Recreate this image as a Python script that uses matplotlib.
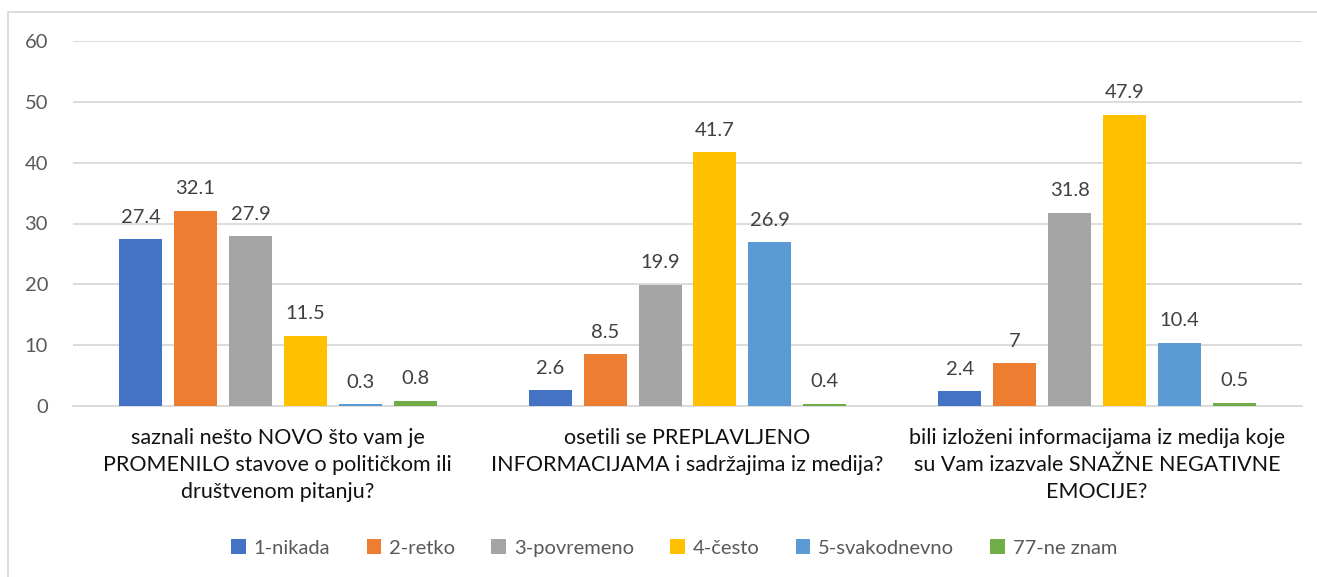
import matplotlib
matplotlib.use("Agg")
import matplotlib.pyplot as plt
from matplotlib.patches import Rectangle
import numpy as np

categories = [
    "saznali nešto NOVO što vam je\nPROMENILO stavove o političkom ili\ndruštvenom pitanju?",
    "osetili se PREPLAVLJENO\nINFORMACIJAMA i sadržajima iz medija?",
    "bili izloženi informacijama iz medija koje\nsu Vam izazvale SNAŽNE NEGATIVNE\nEMOCIJE?",
]
series_names = ["1-nikada", "2-retko", "3-povremeno", "4-često", "5-svakodnevno", "77-ne znam"]
values = [
    [27.4, 2.6, 2.4],
    [32.1, 8.5, 7],
    [27.9, 19.9, 31.8],
    [11.5, 41.7, 47.9],
    [0.3, 26.9, 10.4],
    [0.8, 0.4, 0.5],
]
colors = ["#4472C4", "#ED7D31", "#A5A5A5", "#FFC000", "#5B9BD5", "#70AD47"]
yticks = [0, 10, 20, 30, 40, 50, 60]

plt.rcParams['font.family'] = ['Lato', 'DejaVu Sans']

W, H = 1317, 577
fig = plt.figure(figsize=(W / 100, H / 100), dpi=100)
ax = fig.add_axes([73 / W, 1 - 406 / H, (1302 - 73) / W, (406 - 41) / H])

x = np.arange(len(categories))
step = 0.134
width = 0.105
handles = []
for i, (name, vals, c) in enumerate(zip(series_names, values, colors)):
    pos = x + (i - 2.5) * step
    bars = ax.bar(pos, vals, width=width, color=c, label=name, zorder=3)
    handles.append(bars)
    for p, v in zip(pos, vals):
        ax.annotate(f"{v:g}", (p, v), xytext=(0, 12), textcoords="offset points",
                    ha="center", va="baseline", fontsize=14.5, color="#404040")

ax.set_xlim(-0.5, 2.5)
ax.set_ylim(0, 60)
ax.set_yticks(yticks)
ax.yaxis.grid(True, color="#D9D9D9", linewidth=1.3, zorder=0)
for s in ["top", "right", "left"]:
    ax.spines[s].set_visible(False)
ax.spines["bottom"].set_color("#D9D9D9")
ax.spines["bottom"].set_linewidth(1.3)
ax.tick_params(axis="y", length=0, pad=18, labelsize=14.5, labelcolor="#595959")
ax.tick_params(axis="x", length=0, pad=15.5)
ax.set_xticks(x)
ax.set_xticklabels(categories, fontsize=15.5, color="#111111", linespacing=1.45)

fig.legend(handles=handles, labels=series_names, loc="center", ncol=6,
           bbox_to_anchor=(0.512, 1 - 548 / H), frameon=False, fontsize=14.5,
           handlelength=0.72, handleheight=0.72, handletextpad=0.4,
           columnspacing=1.8, labelcolor="#595959")

fig.patches.append(Rectangle((8 / W, -0.1), 1.2, 1.1 - 12 / H, transform=fig.transFigure,
                             fill=False, edgecolor="#D9D9D9", linewidth=1.3))

fig.savefig("out.png", dpi=100)
